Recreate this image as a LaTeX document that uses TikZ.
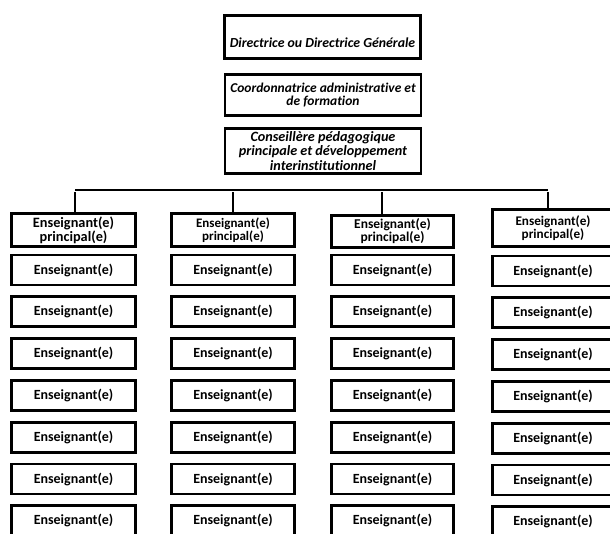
\documentclass[tikz,border=0pt]{standalone}
\usepackage{fontspec}
\setmainfont{Carlito}[Ligatures=NoCommon]

\tikzset{
  box/.style={draw=black, line width=2.9pt, inner sep=0pt, align=center,
    font=\bfseries\fontsize{14}{13}\selectfont},
  topbox/.style={box, minimum width=196, font=\bfseries\itshape\fontsize{13.8}{8}\selectfont},
  bar/.style={line width=2.8pt}
}

\begin{document}
\begin{tikzpicture}[x=1pt,y=-1pt]
    \useasboundingbox (0,0) rectangle (610,533);
    \clip (0,0) rectangle (610,533);

    % direction
    \node[topbox, minimum height=43, text height=24, text depth=3] (dir) at (322.5,37)
    {Directrice ou Directrice Générale};
    \node[topbox, minimum height=41, font=\bfseries\itshape\fontsize{13.5}{13.5}\selectfont]
    (coord) at (323,95) {Coordonnatrice administrative et\\de formation};
    \node[topbox, minimum height=45, font=\bfseries\itshape\fontsize{14.2}{14.5}\selectfont]
    (cons) at (323,151) {Conseillère pédagogique\\principale et développement\\interinstitutionnel};

    % colonnes
    \foreach \cx/\cw/\pt/\pb/\dx/\fs/\dy/\n in {73.5/124/212/248/75/14.3/0/1,
        233/123/212/248/233/13/0/2, 392.5/122/214/249/382/13.5/0/3,
        553/121/208/248/548/13.2/1/4}{
      \coordinate (b\n) at (\dx,190);
      \node[box, minimum width=\cw, minimum height={\pb-\pt-3},
        font=\bfseries\fontsize{\fs}{13}\selectfont]
      (p\n) at (\cx,{(\pt+\pb)/2}) {Enseignant(e)\\principal(e)};
      \draw[bar] ([yshift=-2]b\n) -- (p\n.north -| b\n);
      \foreach \k in {0,...,6}
        \node[box, minimum width=\cw, minimum height=30]
        (e\n\k) at (\cx,{270+\dy+41.8*\k}) {Enseignant(e)};
    }
    \draw[bar] (b1) -- (b4);

\end{tikzpicture}
\end{document}
